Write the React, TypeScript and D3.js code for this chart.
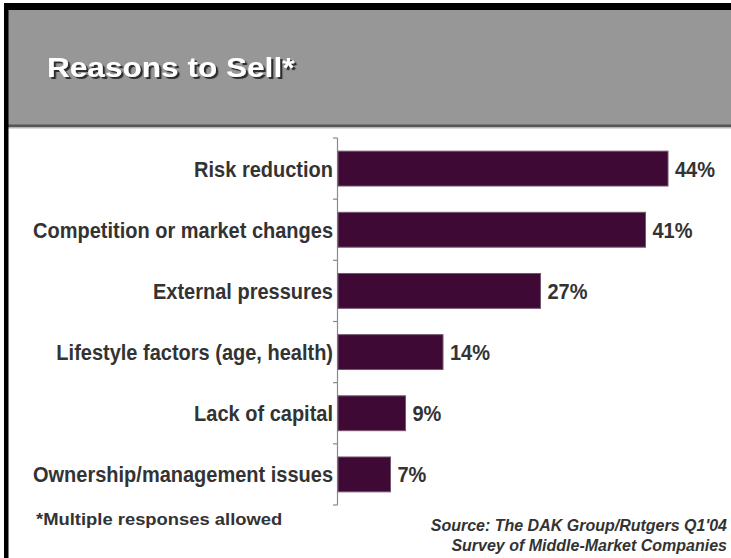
import React from "react";
import * as d3 from "d3";

const categories = [
  "Risk reduction",
  "Competition or market changes",
  "External pressures",
  "Lifestyle factors (age, health)",
  "Lack of capital",
  "Ownership/management issues",
];
const values = [44, 41, 27, 14, 9, 7];
const valueLabels = ["44%", "41%", "27%", "14%", "9%", "7%"];
const title = "Reasons to Sell*";
const footnote = "*Multiple responses allowed";
const sourceLines = ["Source: The DAK Group/Rutgers Q1'04", "Survey of Middle-Market Companies"];

const W = 731;
const H = 558;
const FONT = "'Liberation Sans', Arial, Helvetica, sans-serif";

export default function App() {
  const axisX = 337.5;
  const x = d3.scaleLinear().domain([0, 44]).range([338, 668]);
  const y = d3
    .scaleBand<string>()
    .domain(categories)
    .range([138, 505])
    .paddingInner(0.43)
    .paddingOuter(0.215);
  const tickYs = d3.range(categories.length + 1).map((i) => 138 + i * ((505 - 138) / categories.length));

  return (
    <div style={{ position: "fixed", left: 0, top: 0, width: W, height: H, background: "#fff" }}>
      <svg width={W} height={H} style={{ display: "block" }}>
        <defs>
          <filter id="titleShadow" x="-10%" y="-30%" width="130%" height="170%">
            <feDropShadow dx={2} dy={2} stdDeviation={0.4} floodColor="#2e2e2e" floodOpacity={1} />
          </filter>
        </defs>
        <rect x={0} y={0} width={W} height={H} fill="#ffffff" />
        {/* header */}
        <rect x={8} y={10} width={W - 8} height={115} fill="#979797" />
        <rect x={8} y={124.5} width={W - 8} height={2.5} fill="#555555" />
        <rect x={8} y={127} width={W - 8} height={1.5} fill="#b5b5b5" />
        {/* frame */}
        <rect x={4} y={3} width={W - 4} height={7} fill="#000" />
        <rect x={4} y={3} width={4.5} height={H - 3} fill="#000" />
        {/* title */}
        <g transform="translate(47,77) scale(1.17,1)" filter="url(#titleShadow)">
          <text fontFamily={FONT} fontWeight="bold" fontSize={27} fill="#ffffff">
            {title}
          </text>
        </g>
        {/* axis */}
        <line x1={axisX} x2={axisX} y1={138} y2={505} stroke="#8a8a8a" strokeWidth={1.2} />
        {tickYs.map((ty, i) => (
          <line key={i} x1={axisX - 4.5} x2={axisX} y1={ty} y2={ty} stroke="#8a8a8a" strokeWidth={1.2} />
        ))}
        {/* bars */}
        {categories.map((c, i) => {
          const cy = y(c)! + y.bandwidth() / 2;
          return (
            <g key={c}>
              <rect
                x={x(0)}
                y={y(c)!}
                width={x(values[i]) - x(0)}
                height={y.bandwidth()}
                fill="#3e0935"
                stroke="#76566f"
                strokeWidth={1}
              />
              <g transform={`translate(333,${cy}) scale(1,1.1)`}>
                <text
                  dy="0.36em"
                  textAnchor="end"
                  fontFamily={FONT}
                  fontWeight="bold"
                  fontSize={20}
                  fill="#333333"
                >
                  {c}
                </text>
              </g>
              <g transform={`translate(${x(values[i]) + 7},${cy}) scale(1,1.1)`}>
                <text dy="0.36em" fontFamily={FONT} fontWeight="bold" fontSize={20} fill="#333333">
                  {valueLabels[i]}
                </text>
              </g>
            </g>
          );
        })}
        {/* footnotes */}
        <g transform="translate(36,525) scale(1.15,1)">
          <text fontFamily={FONT} fontWeight="bold" fontSize={16} fill="#333333">
            {footnote}
          </text>
        </g>
        {sourceLines.map((s, i) => (
          <text
            key={i}
            x={727}
            y={531 + i * 20}
            textAnchor="end"
            fontFamily={FONT}
            fontWeight="bold"
            fontStyle="italic"
            fontSize={16}
            fill="#333333"
          >
            {s}
          </text>
        ))}
      </svg>
    </div>
  );
}
